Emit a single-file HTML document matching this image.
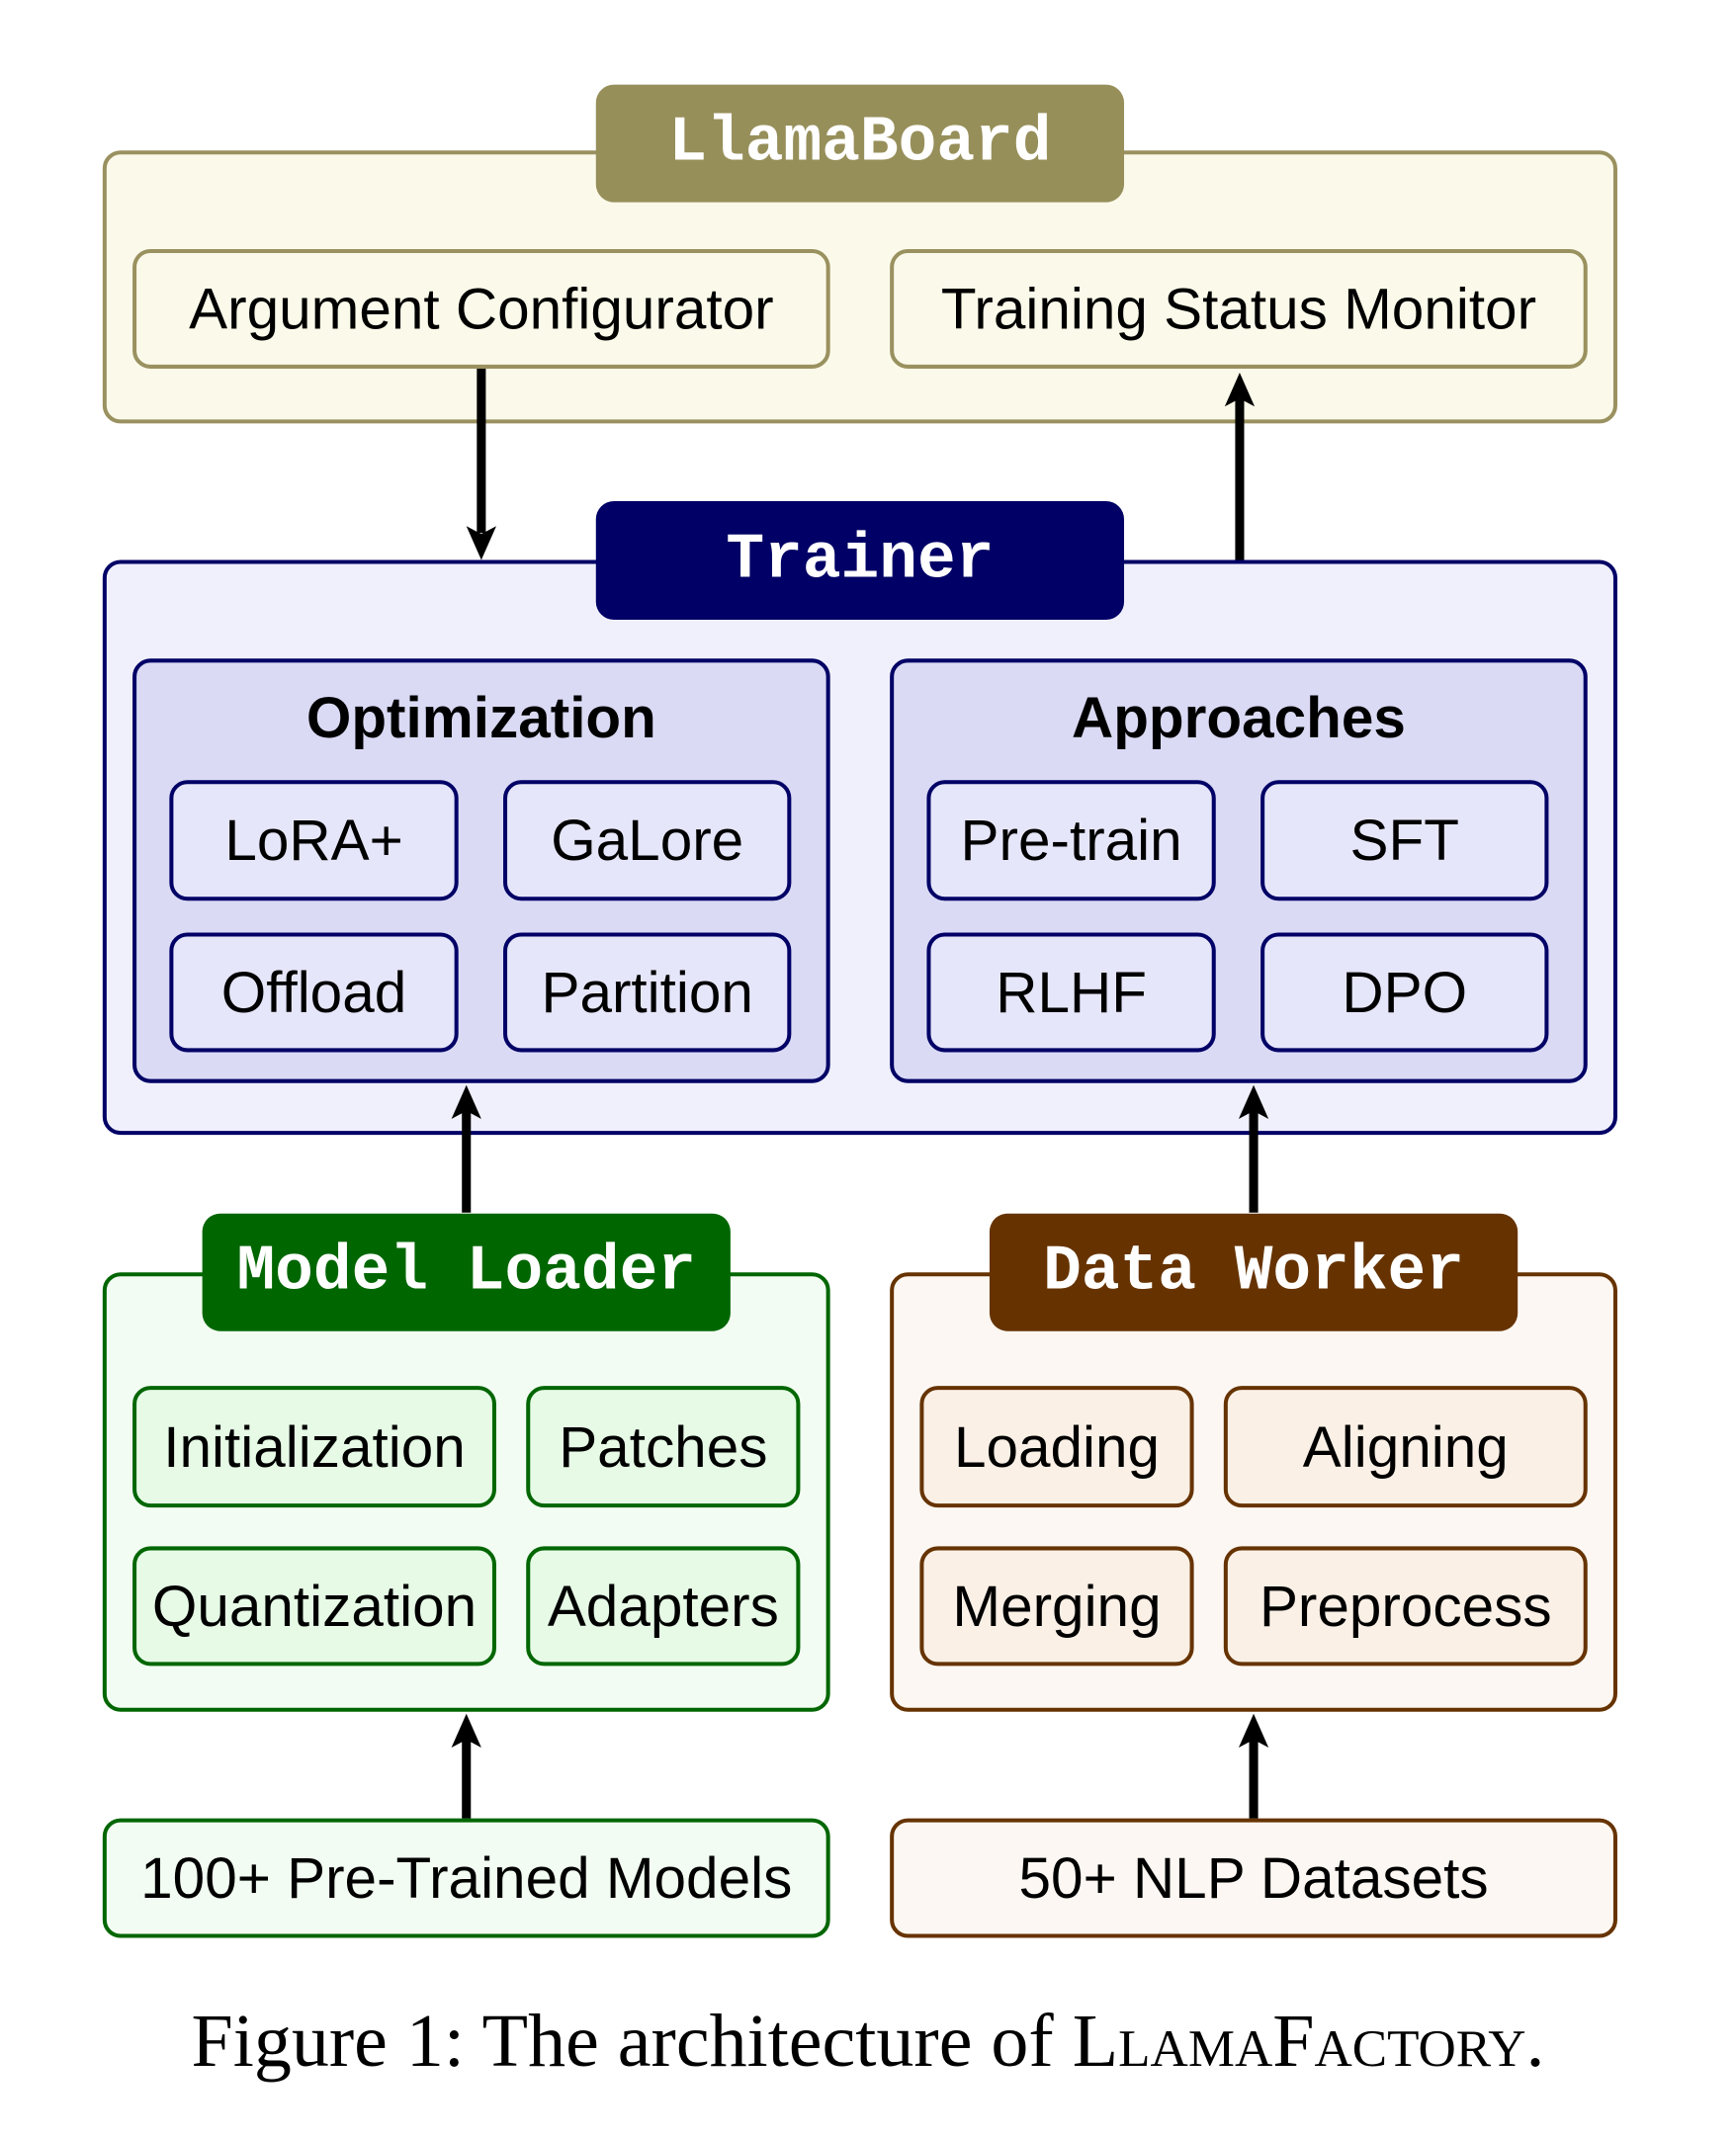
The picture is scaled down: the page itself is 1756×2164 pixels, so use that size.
<!DOCTYPE html>
<html><head><meta charset="utf-8"><style>
body{margin:0;width:1756px;height:2164px;background:#fff;position:relative;overflow:hidden;font-family:"Liberation Sans",sans-serif}
#w{position:absolute;left:0;top:0;width:1756px;height:2000px;transform:scale(1.008);transform-origin:0 0}
.b{position:absolute;box-sizing:border-box;border:4px solid;border-radius:18px;display:flex;align-items:center;justify-content:center;font-size:58px;color:#000}
.t{position:absolute;box-sizing:border-box;border-radius:18px;display:flex;align-items:center;justify-content:center;font-family:"Liberation Mono",monospace;font-weight:bold;font-size:64px;color:#fff}
.y{border-color:#9a9160;background:#fbfaea}
.n{border-color:#000066;background:#f0f0fc}
.ni{border-color:#000066;background:#dadaf5;align-items:flex-start;padding-top:22px;font-weight:bold}
.nb{border-color:#000066;background:#e6e6fa}
.g{border-color:#006600;background:#f2fcf2}
.gi{border-color:#006600;background:#e6fae6}
.o{border-color:#663300;background:#fcf7f2}
.oi{border-color:#663300;background:#faf0e6}
</style></head><body>
<div id="w">
<div class="b y" style="left:103px;top:151px;width:1520px;height:274px"></div>
<div class="t" style="left:598px;top:85px;width:530px;height:118px;background:#978f5a">LlamaBoard</div>
<div class="b y" style="left:133px;top:250px;width:700px;height:120px">Argument Configurator</div>
<div class="b y" style="left:893px;top:250px;width:700px;height:120px">Training Status Monitor</div>

<div class="b n" style="left:103px;top:562px;width:1520px;height:577px"></div>
<div class="t" style="left:598px;top:503px;width:530px;height:119px;background:#000066">Trainer</div>
<div class="b ni" style="left:133px;top:661px;width:700px;height:426px">Optimization</div>
<div class="b ni" style="left:893px;top:661px;width:700px;height:426px">Approaches</div>
<div class="b nb" style="left:170px;top:783px;width:290px;height:121px">LoRA+</div>
<div class="b nb" style="left:505px;top:783px;width:289px;height:121px">GaLore</div>
<div class="b nb" style="left:170px;top:936px;width:290px;height:120px">Offload</div>
<div class="b nb" style="left:505px;top:936px;width:289px;height:120px">Partition</div>
<div class="b nb" style="left:930px;top:783px;width:290px;height:121px">Pre-train</div>
<div class="b nb" style="left:1265px;top:783px;width:289px;height:121px">SFT</div>
<div class="b nb" style="left:930px;top:936px;width:290px;height:120px">RLHF</div>
<div class="b nb" style="left:1265px;top:936px;width:289px;height:120px">DPO</div>

<div class="b g" style="left:103px;top:1277px;width:730px;height:441px"></div>
<div class="t" style="left:203px;top:1218px;width:530px;height:118px;background:#006600">Model Loader</div>
<div class="b gi" style="left:133px;top:1391px;width:365px;height:122px">Initialization</div>
<div class="b gi" style="left:528px;top:1391px;width:275px;height:122px">Patches</div>
<div class="b gi" style="left:133px;top:1552px;width:365px;height:120px">Quantization</div>
<div class="b gi" style="left:528px;top:1552px;width:275px;height:120px">Adapters</div>

<div class="b o" style="left:893px;top:1277px;width:730px;height:441px"></div>
<div class="t" style="left:993px;top:1218px;width:530px;height:118px;background:#663300">Data Worker</div>
<div class="b oi" style="left:923px;top:1391px;width:275px;height:122px">Loading</div>
<div class="b oi" style="left:1228px;top:1391px;width:365px;height:122px">Aligning</div>
<div class="b oi" style="left:923px;top:1552px;width:275px;height:120px">Merging</div>
<div class="b oi" style="left:1228px;top:1552px;width:365px;height:120px">Preprocess</div>

<div class="b g" style="left:103px;top:1825px;width:730px;height:120px">100+ Pre-Trained Models</div>
<div class="b o" style="left:893px;top:1825px;width:730px;height:120px">50+ NLP Datasets</div>

<svg style="position:absolute;left:0;top:0" width="1756" height="2000">
<g stroke="#000" stroke-width="9" fill="none">
<line x1="483" y1="370" x2="483" y2="535"/>
<line x1="1244" y1="562" x2="1244" y2="400"/>
<line x1="468" y1="1217" x2="468" y2="1112"/>
<line x1="1258" y1="1217" x2="1258" y2="1112"/>
<line x1="468" y1="1825" x2="468" y2="1743"/>
<line x1="1258" y1="1825" x2="1258" y2="1743"/>
</g>
<g fill="#000">
<path d="M483 562 L468 528 L483 536 L498 528 Z"/>
<path d="M1244 374 L1229 408 L1244 400 L1259 408 Z"/>
<path d="M468 1089 L453 1123 L468 1115 L483 1123 Z"/>
<path d="M1258 1089 L1243 1123 L1258 1115 L1273 1123 Z"/>
<path d="M468 1720 L453 1754 L468 1746 L483 1754 Z"/>
<path d="M1258 1720 L1243 1754 L1258 1746 L1273 1754 Z"/>
</g>
</svg>
</div>
<div style="position:absolute;left:0;width:1756px;top:2020px;text-align:center;font-family:'Liberation Serif',serif;font-size:76px;line-height:90px">Figure 1: The architecture of <span style="font-variant:small-caps">LlamaFactory</span>.</div>
</body></html>
